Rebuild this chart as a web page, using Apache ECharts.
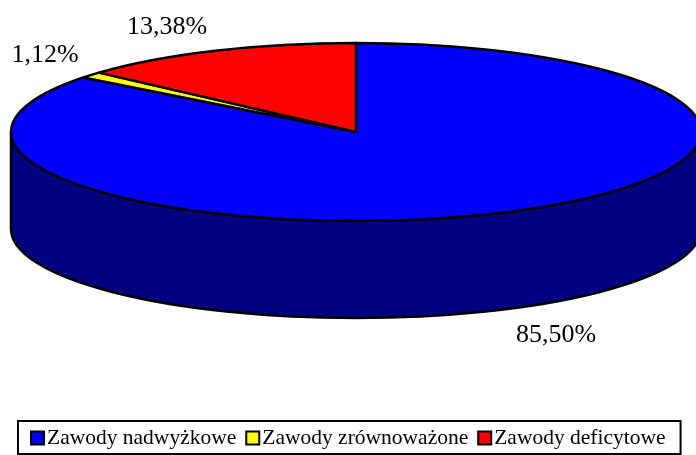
<!DOCTYPE html>
<html><head><meta charset="utf-8">
<style>html,body{margin:0;padding:0;background:#fff}#c{width:696px;height:455px}</style>
<script src="https://cdn.jsdelivr.net/npm/echarts@6/dist/echarts.min.js"></script>
</head><body><div id="c"></div>
<script>
const categories = ['Zawody nadwyżkowe', 'Zawody zrównoważone', 'Zawody deficytowe'];
const shares = [85.5, 1.12, 13.38];
const shareLabels = ['85,50%', '1,12%', '13,38%'];
const topColors = ['#0000ff', '#ffff00', '#ff0000'];
const sideColors = ['#000080', '#808000', '#800000'];
// disc geometry in pixels
const CX = 356, CY = 132, RX = 345, RY = 89, DEPTH = 97;
const labelSpots = [[556, 335], [45, 55], [167, 27]];
const FONT = '"Liberation Serif","Times New Roman",serif';

const total = shares.reduce((a, b) => a + b, 0);
const pt = (t, dy) => [CX + RX * Math.sin(t), CY + (dy || 0) - RY * Math.cos(t)];
const arc = (from, to, dy, sweep) => {
  const p = pt(to, dy);
  const large = Math.abs(to - from) > Math.PI ? 1 : 0;
  return `A${RX} ${RY} 0 ${large} ${sweep} ${p[0]} ${p[1]}`;
};
const style = (fill) => ({ fill, stroke: '#000', lineWidth: 2.5, lineJoin: 'round' });

function renderSlice(index) {
  return function (params, api) {
    let before = 0;
    for (let i = 0; i < index; i++) before += shares[i];
    const a0 = before / total * 2 * Math.PI;
    const a1 = a0 + api.value(0) / total * 2 * Math.PI;
    const children = [];
    const s0 = Math.max(a0, Math.PI / 2), s1 = Math.min(a1, 1.5 * Math.PI);
    if (s1 > s0) {
      const p0 = pt(s0), q1 = pt(s1, DEPTH);
      children.push({
        type: 'path',
        shape: { pathData: `M${p0[0]} ${p0[1]}${arc(s0, s1, 0, 1)}L${q1[0]} ${q1[1]}${arc(s1, s0, DEPTH, 0)}Z` },
        style: style(sideColors[index])
      });
    }
    const p = pt(a0);
    children.push({
      type: 'path',
      shape: { pathData: `M${CX} ${CY}L${p[0]} ${p[1]}${arc(a0, a1, 0, 1)}Z` },
      style: style(topColors[index])
    });
    children.push({
      type: 'text',
      style: {
        x: labelSpots[index][0], y: labelSpots[index][1],
        text: shareLabels[index], align: 'center', verticalAlign: 'middle',
        font: '26px ' + FONT, fill: '#000'
      }
    });
    return { type: 'group', children };
  };
}

const chart = echarts.init(document.getElementById('c'), null, { renderer: 'canvas' });
chart.setOption({
  animation: false,
  backgroundColor: '#fff',
  legend: {
    data: categories,
    left: 18, top: 421,
    padding: [6, 15, 5, 12],
    itemGap: 9, itemWidth: 13, itemHeight: 13,
    icon: 'rect',
    borderColor: '#000', borderWidth: 2,
    itemStyle: { borderColor: '#000', borderWidth: 2 },
    textStyle: { fontFamily: FONT, fontSize: 21.5, lineHeight: 22, color: '#000', padding: [0, 0, 0, -2] }
  },
  series: categories.map((name, i) => ({
    type: 'custom',
    name,
    coordinateSystem: 'none',
    itemStyle: { color: topColors[i] },
    data: [[shares[i]]],
    clip: false,
    renderItem: renderSlice(i)
  }))
});
</script></body></html>
